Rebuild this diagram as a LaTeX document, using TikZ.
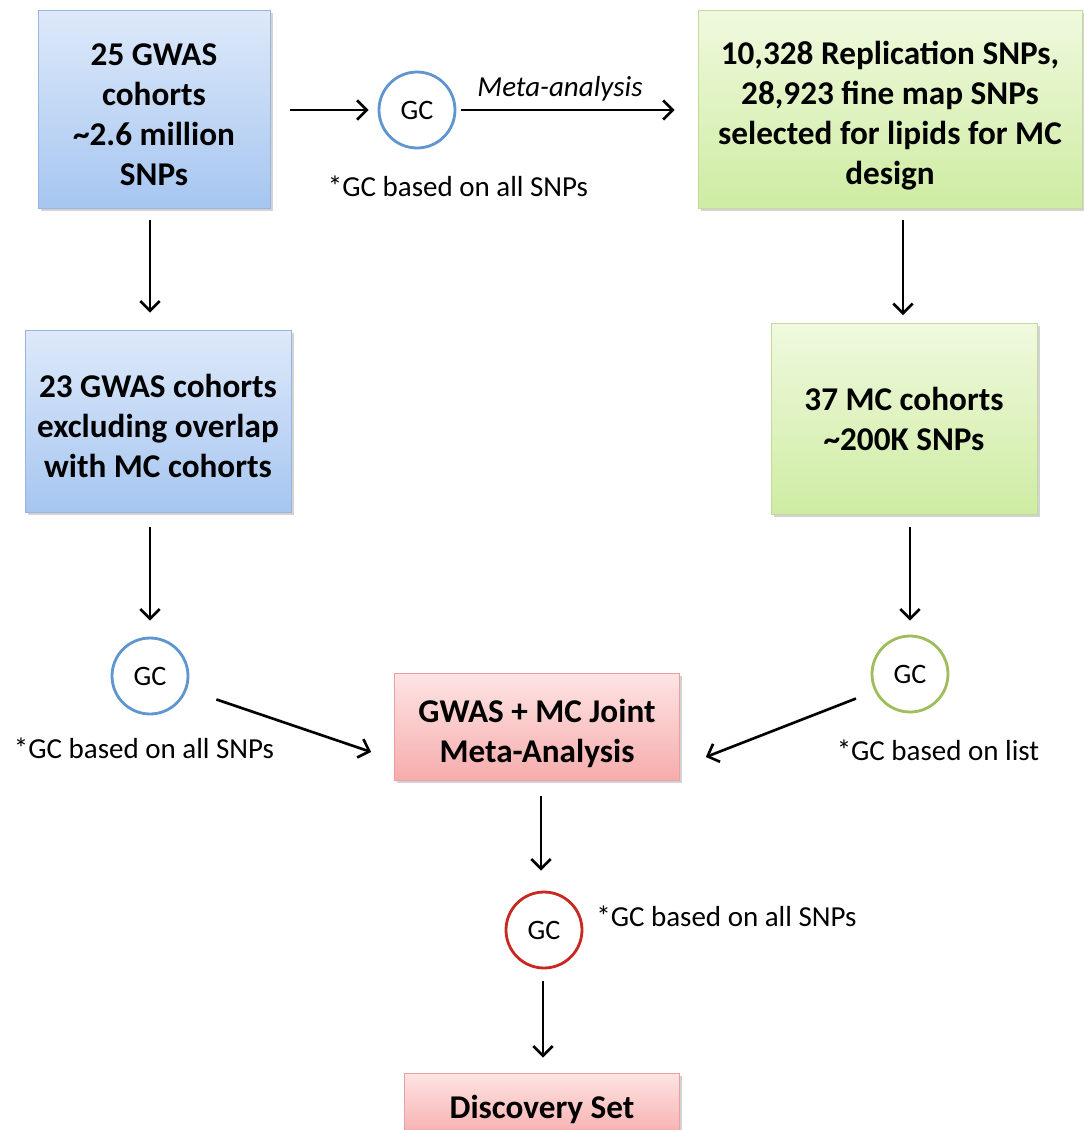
\documentclass[tikz,border=0pt]{standalone}
\usepackage{fontspec}
\setmainfont{Carlito}
\usepackage{xcolor}
\usepackage{tikz}
\usetikzlibrary{arrows.meta,positioning,shadows}
\definecolor{gwastop}{RGB}{222,233,250}
\definecolor{gwasbot}{RGB}{166,198,240}
\definecolor{gwasline}{RGB}{150,182,222}
\definecolor{mctop}{RGB}{240,249,222}
\definecolor{mcbot}{RGB}{206,236,162}
\definecolor{mcline}{RGB}{196,218,156}
\definecolor{jointtop}{RGB}{254,228,228}
\definecolor{jointbot}{RGB}{246,172,172}
\definecolor{jointline}{RGB}{232,160,160}
\definecolor{gcblue}{RGB}{96,150,208}
\definecolor{gcgreen}{RGB}{158,190,92}
\definecolor{gcred}{RGB}{200,40,32}

\begin{document}
\begin{tikzpicture}[x=0.02cm,y=-0.02cm,
    box/.style={draw,thin,align=center,inner sep=2pt,
      font=\fontsize{18.9}{22.7}\selectfont\bfseries,
      drop shadow={shadow xshift=1.6pt,shadow yshift=-1.6pt,opacity=0.35}},
    gwasbox/.style={box,draw=gwasline,top color=gwastop,bottom color=gwasbot},
    mcbox/.style={box,draw=mcline,top color=mctop,bottom color=mcbot},
    jointbox/.style={box,draw=jointline,top color=jointtop,bottom color=jointbot},
    gc/.style={circle,line width=1.6pt,fill=white,minimum size=1.52cm,
      inner sep=0pt,font=\fontsize{16}{18}\selectfont},
    note/.style={font=\fontsize{16.5}{19}\selectfont,inner sep=0pt},
    arr/.style={-{Straight Barb[length=5.5pt,width=11pt]},line width=1.5pt}]
  \useasboundingbox (0,0) rectangle (1084,1130);
  % boxes
  \node[gwasbox,minimum width=4.64cm,minimum height=3.96cm] (gwas25) at (154,109)
    {\\[-4pt]25 GWAS\\cohorts\\\textasciitilde2.6 million\\SNPs};
  \node[mcbox,minimum width=7.68cm,minimum height=3.96cm] (mcdesign) at (890,109)
    {\\[-2pt]10,328 Replication SNPs,\\28,923 fine map SNPs\\selected for lipids for MC\\design};
  \node[gwasbox,minimum width=5.32cm,minimum height=3.64cm] (gwas23) at (158,421)
    {\\[-4pt]23 GWAS cohorts\\excluding overlap\\with MC cohorts};
  \node[mcbox,minimum width=5.32cm,minimum height=3.82cm] (mccoh) at (904,419)
    {37 MC cohorts\\\textasciitilde200K SNPs};
  \node[jointbox,minimum width=5.7cm,minimum height=2.14cm] (joint) at (537,727)
    {\\[-2pt]GWAS + MC Joint\\Meta-Analysis};
  \node[jointbox,minimum width=5.5cm,minimum height=1.32cm] (disc) at (542,1106)
    {\\[-6pt]Discovery Set};
  % genomic control circles
  \node[gc,draw=gcblue] (gctop) at (417,110) {GC};
  \node[gc,draw=gcblue] (gcl) at (150,676) {GC};
  \node[gc,draw=gcgreen] (gcr) at (910,674) {GC};
  \node[gc,draw=gcred] (gcb) at (544,930) {GC};
  \node[note] (ntop) at (458,186) {*GC based on all SNPs};
  \node[note] (nl) at (144,748) {*GC based on all SNPs};
  \node[note] (nr) at (938,750) {*GC based on list};
  \node[note,right=0.3cm of gcb.20] (nb) {*GC based on all SNPs};
  % arrows
  \draw[arr,shorten <=0.4cm,shorten >=0.18cm] (gwas25.east |- gctop) -- (gctop);
  \draw[arr,shorten <=0.1cm,shorten >=0.46cm] (gctop) -- (gctop -| mcdesign.west)
    node[midway,above=0.04cm,xshift=-0.34cm,font=\fontsize{16.5}{19}\selectfont\itshape] (meta) {Meta-analysis};
  \draw[arr,shorten <=0.24cm,shorten >=0.34cm] (gwas25.south -| gcl) -- (gwas23.north -| gcl);
  \draw[arr,shorten <=0.3cm,shorten >=0.32cm] (gwas23.south -| gcl) -- (gcl.north);
  \draw[arr,shorten <=0.24cm,shorten >=0.16cm] (mcdesign.south -| 903,0) -- (mccoh.north -| 903,0);
  \draw[arr,shorten <=0.24cm,shorten >=0.28cm] (mccoh.south -| gcr) -- (gcr.north);
  \draw[arr,shorten <=0.62cm] (gcl.-20) -- ([xshift=-0.46cm,yshift=-0.5cm]joint.west);
  \draw[arr,shorten <=0.4cm] (gcr.206) -- ([xshift=0.52cm,yshift=-0.6cm]joint.east);
  \draw[arr,shorten <=0.3cm,shorten >=0.4cm] (joint.south -| 541,0) -- (gcb.north -| 541,0);
  \draw[arr,shorten <=0.24cm,shorten >=0.3cm] (gcb.south -| 543,0) -- (disc.north -| 543,0);
\end{tikzpicture}
\end{document}
